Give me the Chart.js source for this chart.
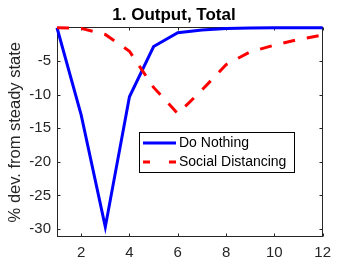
<!DOCTYPE html>
<html>
<head>
<meta charset="utf-8">
<script src="https://cdn.jsdelivr.net/npm/chart.js@4/dist/chart.umd.min.js"></script>
<style>
  html, body { margin: 0; padding: 0; background: #fff; }
  #wrap { width: 338px; height: 261px; position: relative; }
</style>
</head>
<body>
<div id="wrap"><canvas id="chart"></canvas></div>
<script>
'use strict';

// data
const periods = [1, 2, 3, 4, 5, 6, 7, 8, 9, 10, 11, 12];
const doNothing = [0, -13, -29.7, -10.3, -2.8, -0.75, -0.35, -0.1, -0.05, 0, 0, 0];
const socialDist = [0, -0.1, -1.0, -3.5, -8.9, -12.8, -9.3, -5.5, -3.6, -2.6, -1.75, -1.1];
const xTicks = [2, 4, 6, 8, 10, 12];
const yTicks = [-30, -25, -20, -15, -10, -5];
const seriesNames = ['Do Nothing', 'Social Distancing'];

const FONT = '"Liberation Sans", Arial, Helvetica, sans-serif';
const AXIS = '#262626';

function points(vals) {
  return periods.map((p, i) => ({ x: p, y: vals[i] }));
}

// box round the axes with ticks pointing inward (matlab style)
const axesBox = {
  id: 'axesBox',
  beforeDatasetsDraw(chart) {
    const { ctx, chartArea: a, scales } = chart;
    const L = Math.round(a.left) + 0.5, R = Math.round(a.right) - 0.5;
    const T = Math.round(a.top) + 0.5, B = Math.round(a.bottom) - 0.5;
    ctx.save();
    ctx.strokeStyle = AXIS;
    ctx.lineWidth = 1;
    ctx.strokeRect(L, T, R - L, B - T);
    ctx.beginPath();
    xTicks.forEach(v => {
      const x = Math.round(scales.x.getPixelForValue(v)) + 0.5;
      ctx.moveTo(x, B); ctx.lineTo(x, B - 3);
      ctx.moveTo(x, T); ctx.lineTo(x, T + 3);
    });
    yTicks.forEach(v => {
      const y = Math.round(scales.y.getPixelForValue(v)) + 0.5;
      ctx.moveTo(L, y); ctx.lineTo(L + 3, y);
      ctx.moveTo(R, y); ctx.lineTo(R - 3, y);
    });
    ctx.stroke();
    ctx.restore();
  }
};

// legend box inside the plot
const innerLegend = {
  id: 'innerLegend',
  afterDraw(chart) {
    const { ctx } = chart;
    const x0 = 139.5, y0 = 132.5, w = 155, h = 40;
    ctx.save();
    ctx.fillStyle = '#fff';
    ctx.fillRect(x0, y0, w, h);
    ctx.strokeStyle = '#000';
    ctx.lineWidth = 1;
    ctx.strokeRect(x0, y0, w, h);
    const rows = [143, 162];
    chart.data.datasets.forEach((ds, i) => {
      const y = rows[i];
      ctx.strokeStyle = ds.borderColor;
      ctx.lineWidth = 3;
      ctx.setLineDash(i === 1 ? [7, 19] : []);
      ctx.beginPath();
      ctx.moveTo(143, y); ctx.lineTo(176, y);
      ctx.stroke();
      ctx.setLineDash([]);
      ctx.fillStyle = '#000';
      ctx.font = '14px ' + FONT;
      ctx.textBaseline = 'middle';
      ctx.textAlign = 'left';
      ctx.fillText(ds.label, 179, y);
    });
    ctx.restore();
  }
};

const config = {
  type: 'line',
  data: {
    datasets: [
      {
        label: seriesNames[0],
        data: points(doNothing),
        borderColor: '#0000ff',
        borderWidth: 3,
        pointRadius: 0,
        clip: 4,
        order: 1
      },
      {
        label: seriesNames[1],
        data: points(socialDist),
        borderColor: '#ff0000',
        borderWidth: 3,
        borderDash: [12, 12],
        pointRadius: 0,
        clip: 4,
        order: 0
      }
    ]
  },
  options: {
    responsive: true,
    maintainAspectRatio: false,
    animation: false,
    // left padding pushes the title centre to where matlab put it
    layout: { padding: { left: 20, right: 10, top: 0, bottom: 0 } },
    scales: {
      x: {
        type: 'linear',
        min: 1,
        max: 12,
        afterBuildTicks: s => { s.ticks = xTicks.map(v => ({ value: v })); },
        afterFit: s => { s.height = 24; },
        grid: { display: false, drawTicks: false },
        border: { display: false },
        ticks: { color: AXIS, font: { family: FONT, size: 15 }, padding: 7, maxRotation: 0 }
      },
      y: {
        min: -31.2,
        max: 0.05,
        afterBuildTicks: s => { s.ticks = yTicks.map(v => ({ value: v })); },
        afterFit: s => { s.width = 37; },
        grid: { display: false, drawTicks: false },
        border: { display: false },
        ticks: { color: AXIS, font: { family: FONT, size: 15 }, padding: 6 },
        title: {
          display: true,
          text: '% dev. from steady state',
          color: AXIS,
          font: { family: FONT, size: 16.5 },
          padding: { top: -14, bottom: 0 }
        }
      }
    },
    plugins: {
      legend: { display: false },
      tooltip: { enabled: false },
      title: {
        display: true,
        text: '1. Output, Total',
        color: '#000',
        font: { family: FONT, size: 17, weight: 'bold' },
        padding: { top: 5, bottom: 2 }
      }
    }
  },
  plugins: [axesBox, innerLegend]
};

new Chart(document.getElementById('chart'), config);
</script>
</body>
</html>
